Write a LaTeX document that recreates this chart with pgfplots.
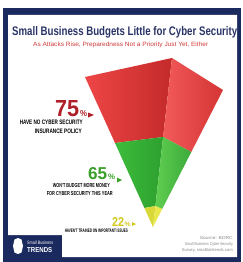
\documentclass[border=0pt]{standalone}
\usepackage{fontspec}
\setmainfont{Liberation Sans}
\usepackage{graphicx}
\usepackage{pgfplots}
\pgfplotsset{compat=1.18}
\definecolor{navy}{HTML}{1B2A5E}
\definecolor{titlec}{HTML}{2A3466}
\definecolor{subc}{HTML}{D03A3A}
\definecolor{redA}{HTML}{EE4646}
\definecolor{redB}{HTML}{C42A2A}
\definecolor{redC}{HTML}{F25A5A}
\definecolor{redD}{HTML}{D43434}
\definecolor{grA}{HTML}{3CBC3C}
\definecolor{grB}{HTML}{2EA02E}
\definecolor{grC}{HTML}{60CE50}
\definecolor{grD}{HTML}{3AAA3A}
\definecolor{yeA}{HTML}{D8D838}
\definecolor{yeB}{HTML}{E8E84C}
\definecolor{lab75}{HTML}{B0202A}
\definecolor{lab65}{HTML}{3AA02A}
\definecolor{lab22}{HTML}{D4C81A}
\definecolor{srcc}{HTML}{8A8A8A}
\newcommand{\rb}[3]{\resizebox{#1pt}{#2pt}{#3}}
\begin{document}
\begin{tikzpicture}
\begin{axis}[
  width=242pt, height=262pt, scale only axis,
  xmin=0, xmax=242, ymin=0, ymax=262, y dir=reverse,
  hide axis, clip=false]
% background and frame
\addplot[draw=none, fill=white] coordinates {(0,0) (242,0) (242,262) (0,262)} -- cycle;
\addplot[draw=none, fill=navy] coordinates {(3,8) (241,8) (241,262) (3,262)} -- cycle;
\addplot[draw=none, fill=white] coordinates {(8,15) (237,15) (237,257) (62,257) (62,235) (8,235)} -- cycle;
% pyramid faces
\addplot[draw=none, left color=redA, right color=redB] coordinates {(85,77) (172,58) (163.1,137) (115,143)} -- cycle;
\addplot[draw=none, left color=redC, right color=redD] coordinates {(172,58) (223,90) (191.3,152) (163.1,137)} -- cycle;
\addplot[draw=none, left color=grA, right color=grB] coordinates {(115,143) (163.1,137) (155.4,206) (144.4,208)} -- cycle;
\addplot[draw=none, left color=grC, right color=grD] coordinates {(163.1,137) (191.3,152) (162.2,209) (155.4,206)} -- cycle;
\addplot[draw=none, fill=yeA] coordinates {(144.4,208) (155.4,206) (153,227)} -- cycle;
\addplot[draw=none, fill=yeB] coordinates {(155.4,206) (162.2,209) (153,227)} -- cycle;
% arrows
\addplot[draw=none, fill=lab75] coordinates {(88,112.5) (94,115) (88,117.5)} -- cycle;
\addplot[draw=none, fill=lab65] coordinates {(117,177.5) (122,180) (117,182.5)} -- cycle;
\addplot[draw=none, fill=lab22] coordinates {(132,222) (136,224) (132,226)} -- cycle;
% titles
\node[anchor=base west, inner sep=0, text=titlec] at (axis cs:12,36) {\rb{225}{9}{\bfseries Small Business Budgets Little for Cyber Security}};
\node[anchor=base west, inner sep=0, text=subc] at (axis cs:33,47) {\rb{175}{4.5}{As Attacks Rise, Preparedness Not a Priority Just Yet, Either}};
% 75
\node[anchor=base west, inner sep=0, text=lab75] at (axis cs:55,116) {\rb{24}{16}{\bfseries 75}};
\node[anchor=base west, inner sep=0, text=lab75] at (axis cs:80,116) {\rb{7}{6}{\bfseries \%}};
\node[anchor=base east, inner sep=0, text=black] at (axis cs:83,124.5) {\rb{63}{4.5}{\bfseries HAVE NO CYBER SECURITY}};
\node[anchor=base east, inner sep=0, text=black] at (axis cs:82,133.5) {\rb{47}{4.5}{\bfseries INSURANCE POLICY}};
% 65
\node[anchor=base west, inner sep=0, text=lab65] at (axis cs:88,179.5) {\rb{19}{12}{\bfseries 65}};
\node[anchor=base west, inner sep=0, text=lab65] at (axis cs:108,179.5) {\rb{7}{5.5}{\bfseries \%}};
\node[anchor=base east, inner sep=0, text=black] at (axis cs:110,187.5) {\rb{57}{4}{\bfseries WON'T BUDGET MORE MONEY}};
\node[anchor=base east, inner sep=0, text=black] at (axis cs:113,195.5) {\rb{66}{4}{\bfseries FOR CYBER SECURITY THIS YEAR}};
% 22
\node[anchor=base west, inner sep=0, text=lab22] at (axis cs:112,226) {\rb{12}{9}{\bfseries 22}};
\node[anchor=base west, inner sep=0, text=lab22] at (axis cs:124.5,226) {\rb{6}{4.5}{\bfseries \%}};
\node[anchor=base east, inner sep=0, text=black] at (axis cs:128,232) {\rb{63}{3.5}{\bfseries HAVEN'T TRAINED ON IMPORTANT ISSUES}};
% logo
\addplot[draw=none, fill=white] coordinates {(18,238) (21.5,239.5) (23,246) (21.5,252.5) (18,254) (14.5,252.5) (13,246) (14.5,239.5)} -- cycle;
\node[anchor=base west, inner sep=0, text=white] at (axis cs:27,244) {\rb{26}{3.5}{Small Business}};
\node[anchor=base west, inner sep=0, text=white] at (axis cs:27,252) {\rb{25}{5}{\bfseries TRENDS}};
% source
\node[anchor=base east, inner sep=0, text=srcc] at (axis cs:233,239) {\rb{33}{3}{Source: BDRC}};
\node[anchor=base east, inner sep=0, text=srcc] at (axis cs:233,245) {\rb{48}{3}{Small Business Cyber Security}};
\node[anchor=base east, inner sep=0, text=srcc] at (axis cs:233,251) {\rb{51}{3}{Survey, smallbiztrends.com}};
\end{axis}
\end{tikzpicture}
\end{document}
